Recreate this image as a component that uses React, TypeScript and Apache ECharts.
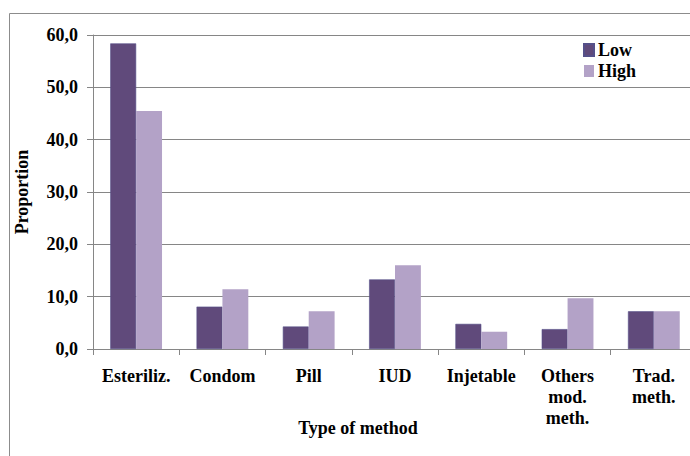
import React, { useEffect, useRef } from "react";
import * as echarts from "echarts";

const categories = ["Esteriliz.", "Condom", "Pill", "IUD", "Injetable", "Others\nmod.\nmeth.", "Trad.\nmeth."];
const lowValues = [58.4, 8.1, 4.3, 13.3, 4.8, 3.8, 7.2];
const highValues = [45.5, 11.4, 7.2, 16.0, 3.3, 9.7, 7.2];
const seriesNames = ["Low", "High"];
const yAxisTitle = "Proportion";
const xAxisTitle = "Type of method";

const FONT = "'Liberation Serif', 'Times New Roman', serif";

export default function App() {
  const ref = useRef<HTMLDivElement>(null);
  useEffect(() => {
    if (!ref.current) return;
    const chart = echarts.init(ref.current, undefined, { renderer: "svg" });
    chart.setOption({
      animation: false,
      backgroundColor: "#ffffff",
      textStyle: { fontFamily: FONT },
      grid: { left: 93, top: 35, right: 23, bottom: 107, containLabel: false },
      legend: {
        orient: "vertical",
        left: 578,
        top: 36,
        itemWidth: 10,
        itemHeight: 12,
        itemGap: 3,
        icon: "rect",
        data: seriesNames,
        textStyle: { fontFamily: FONT, fontWeight: "bold", fontSize: 18, color: "#000", padding: [0, 0, 0, -1] },
      },
      xAxis: {
        type: "category",
        data: categories,
        axisLine: { show: true, lineStyle: { color: "#868686", width: 1 } },
        axisTick: { show: true, length: 6, lineStyle: { color: "#868686" } },
        axisLabel: {
          interval: 0,
          margin: 16,
          fontFamily: FONT,
          fontWeight: "bold",
          fontSize: 18,
          color: "#000",
          lineHeight: 21,
        },
        splitLine: { show: false },
      },
      yAxis: {
        type: "value",
        min: 0,
        max: 60,
        interval: 10,
        name: yAxisTitle,
        nameLocation: "middle",
        nameRotate: 90,
        nameGap: 62,
        nameTextStyle: { fontFamily: FONT, fontWeight: "bold", fontSize: 18, color: "#000" },
        axisLine: { show: true, lineStyle: { color: "#868686", width: 1 } },
        axisTick: { show: true, length: 6, lineStyle: { color: "#868686" } },
        axisLabel: {
          margin: 15,
          fontFamily: FONT,
          fontWeight: "bold",
          fontSize: 18,
          color: "#000",
          formatter: (v: number) => v.toFixed(1).replace(".", ","),
        },
        splitLine: { show: true, lineStyle: { color: "#868686", width: 1 } },
      },
      graphic: [
        {
          type: "rect",
          silent: true,
          shape: { x: 9.5, y: 13.5, width: 760, height: 470 },
          style: { fill: "none", stroke: "#8c8c8c", lineWidth: 1 },
          z: 0,
        },
        {
          type: "text",
          x: 358,
          y: 428,
          style: {
            text: xAxisTitle,
            fontFamily: FONT,
            fontWeight: "bold",
            fontSize: 18,
            fill: "#000",
            textAlign: "center",
            textVerticalAlign: "middle",
          },
        },
      ],
      series: [
        {
          name: seriesNames[0],
          type: "bar",
          data: lowValues,
          barGap: "0%",
          barCategoryGap: "40%",
          itemStyle: { color: "#604a7b", borderColor: "#55508a", borderWidth: 0.6 },
        },
        {
          name: seriesNames[1],
          type: "bar",
          data: highValues,
          barGap: "0%",
          barCategoryGap: "40%",
          itemStyle: { color: "#b3a2c7" },
        },
      ],
    });
    return () => chart.dispose();
  }, []);
  return (
    <div style={{ position: "fixed", left: 0, top: 0, width: 690, height: 456, overflow: "hidden", background: "#fff" }}>
      <div ref={ref} style={{ width: 720, height: 456 }} />
    </div>
  );
}
